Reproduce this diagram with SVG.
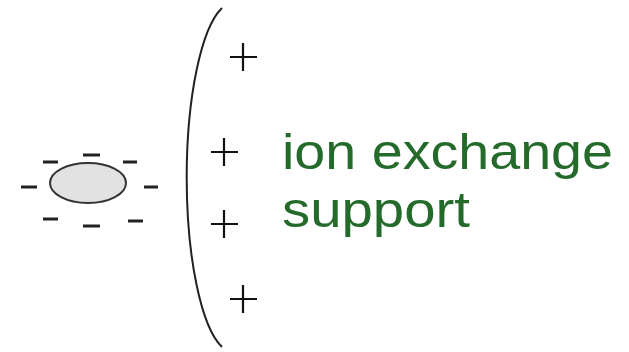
<svg xmlns="http://www.w3.org/2000/svg" width="629" height="352" viewBox="0 0 629 352">
<style>
.dash{stroke:#222;stroke-width:3;}
.plus{stroke:#111;stroke-width:2.2;fill:none;}
.lbl{font-family:"Liberation Sans",Arial,sans-serif;font-size:50px;fill:#236a2b;}
</style>
<rect width="629" height="352" fill="#fff"/>
<g id="particle">
<ellipse cx="88" cy="183" rx="38" ry="20" fill="#e2e2e2" stroke="#333" stroke-width="2"/>
<line class="dash" x1="83" y1="155" x2="100" y2="155"/>
<line class="dash" x1="43" y1="162" x2="58" y2="162"/>
<line class="dash" x1="123" y1="162" x2="137" y2="162"/>
<line class="dash" x1="21" y1="187" x2="37" y2="187"/>
<line class="dash" x1="144" y1="187" x2="158" y2="187"/>
<line class="dash" x1="43" y1="219" x2="58" y2="219"/>
<line class="dash" x1="83" y1="226" x2="100" y2="226"/>
<line class="dash" x1="128" y1="221" x2="143" y2="221"/>
</g>
<g id="support">
<path d="M222,8 A47,175 0 0 0 222,347" fill="none" stroke="#222" stroke-width="2"/>
<path class="plus" d="M230,57 H257 M243,43 V71"/>
<path class="plus" d="M211,152 H238 M224,138 V166"/>
<path class="plus" d="M211,224 H238 M224,210 V238"/>
<path class="plus" d="M230,299 H257 M243,285 V313"/>
</g>
<g id="label">
<text class="lbl" x="282" y="169" textLength="331" lengthAdjust="spacingAndGlyphs">ion exchange</text>
<text class="lbl" x="282" y="227" textLength="188" lengthAdjust="spacingAndGlyphs">support</text>
</g>
<g id="connectors"/>
</svg>
